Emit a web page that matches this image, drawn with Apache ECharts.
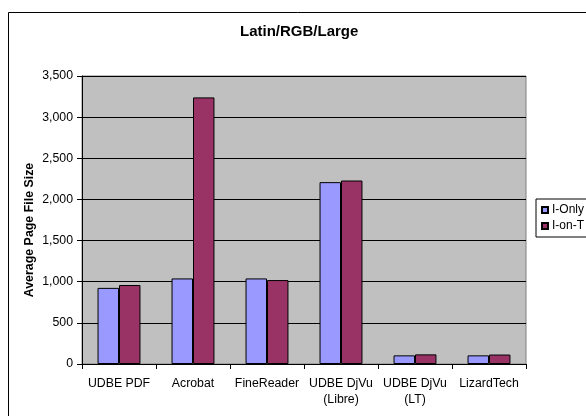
<!DOCTYPE html>
<html>
<head>
<meta charset="utf-8">
<script src="https://cdn.jsdelivr.net/npm/echarts@6/dist/echarts.min.js"></script>
<style>
html,body{margin:0;padding:0;background:#fff;}
#c{width:586px;height:416px;}
</style>
</head>
<body>
<div id="c"></div>
<script>
const categories = ['UDBE PDF', 'Acrobat', 'FineReader', 'UDBE DjVu\n(Libre)', 'UDBE DjVu\n(LT)', 'LizardTech'];
const seriesNames = ['I-Only', 'I-on-T'];
const iOnly = [925, 1040, 1040, 2210, 105, 105];
const iOnT = [960, 3240, 1020, 2230, 117, 115];
const yTicks = { min: 0, max: 3500, interval: 500 };

const chart = echarts.init(document.getElementById('c'), null, { renderer: 'canvas' });
const font = '"Liberation Sans", Arial, sans-serif';
chart.setOption({
  animation: false,
  backgroundColor: '#ffffff',
  textStyle: { fontFamily: font },
  title: {
    text: 'Latin/RGB/Large',
    left: 240,
    top: 24,
    padding: 0,
    textStyle: { fontSize: 15, fontWeight: 'bold', color: '#000', fontFamily: font }
  },
  graphic: [{
    type: 'rect',
    z: -10,
    shape: { x: 8.5, y: 12.5, width: 700, height: 500 },
    style: { fill: 'none', stroke: '#000', lineWidth: 1 }
  }],
  legend: {
    orient: 'vertical',
    left: 536,
    top: 199,
    data: seriesNames,
    icon: 'rect',
    itemWidth: 6,
    itemHeight: 6,
    itemGap: 4,
    padding: [5, 20, 5, 5],
    borderColor: '#000',
    borderWidth: 1,
    backgroundColor: '#fff',
    textStyle: { fontSize: 12, color: '#000', fontFamily: font, padding: [0, 0, 0, -1] }
  },
  grid: {
    left: 82, right: 60, top: 76, bottom: 52,
    show: true,
    backgroundColor: '#C0C0C0',
    borderColor: '#808080',
    borderWidth: 1
  },
  xAxis: {
    type: 'category',
    data: categories,
    axisLine: { lineStyle: { color: '#000', width: 1 } },
    axisTick: { show: true, length: 5, lineStyle: { color: '#000' } },
    axisLabel: { fontSize: 12.3, color: '#000', margin: 12, lineHeight: 15.5, fontFamily: font, interval: 0 },
    splitLine: { show: false }
  },
  yAxis: {
    type: 'value',
    min: yTicks.min,
    max: yTicks.max,
    interval: yTicks.interval,
    name: 'Average Page File Size',
    nameLocation: 'middle',
    nameGap: 46,
    nameMoveOverlap: false,
    nameTextStyle: { fontSize: 12.4, fontWeight: 'bold', color: '#000', fontFamily: font, padding: [0, 20, 0, 0] },
    axisLine: { show: true, lineStyle: { color: '#000', width: 1 } },
    axisTick: { show: true, length: 5, lineStyle: { color: '#000' } },
    axisLabel: {
      fontSize: 12.3, color: '#000', margin: 9, fontFamily: font,
      formatter: v => v.toLocaleString('en-US')
    },
    splitLine: { show: true, lineStyle: { color: '#000', width: 1 } }
  },
  series: [
    {
      name: seriesNames[0], type: 'bar', data: iOnly,
      barGap: '0%', barCategoryGap: '42%',
      itemStyle: { color: '#9999FF', borderColor: '#000', borderWidth: 1 }
    },
    {
      name: seriesNames[1], type: 'bar', data: iOnT,
      barGap: '0%', barCategoryGap: '42%',
      itemStyle: { color: '#993366', borderColor: '#000', borderWidth: 1 }
    }
  ]
});
</script>
</body>
</html>
